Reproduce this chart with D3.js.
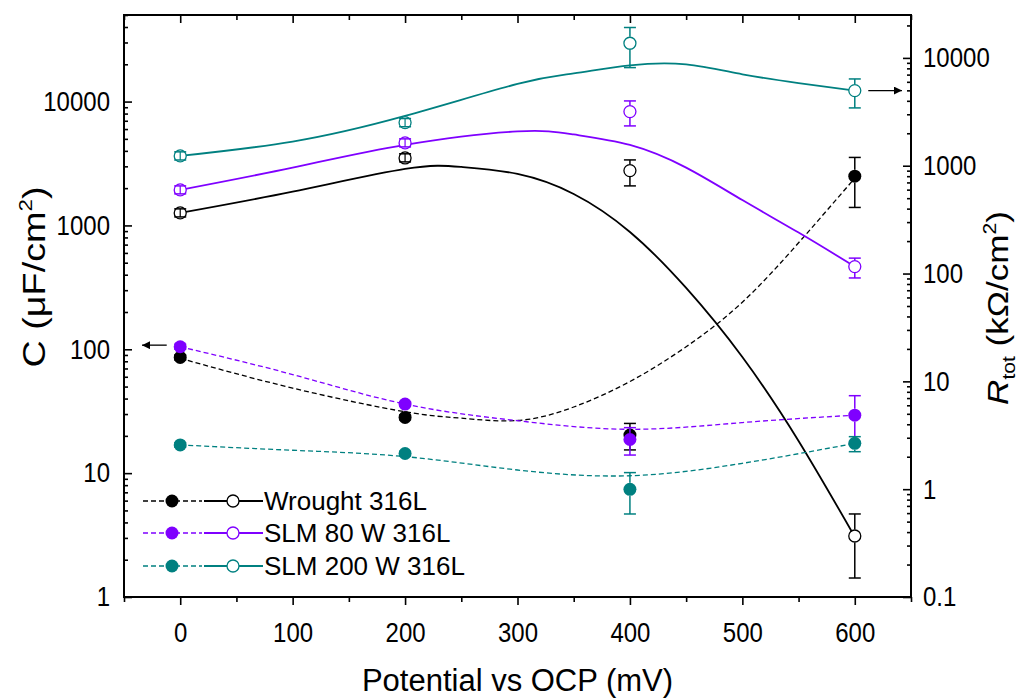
<!DOCTYPE html>
<html>
<head>
<meta charset="utf-8">
<script src="https://d3js.org/d3.v7.min.js"></script>
<style>
  html, body { margin: 0; padding: 0; background: #fff; }
  svg { display: block; font-family: "Liberation Sans", Arial, Helvetica, sans-serif; }
</style>
</head>
<body>
<svg id="chart" width="1022" height="698"></svg>
<script>
// ---------------- DATA ----------------
const potentials = [0, 200, 400, 600];
const seriesNames = ["Wrought 316L", "SLM 80 W 316L", "SLM 200 W 316L"];
const seriesColors = ["#000000", "#7F00FF", "#008080"];

// Capacitance C (µF/cm²) – filled markers, left axis
const cWrought   = [86, 28.2, 20.3, 2500];
const cWroughtLo = [82, 27.0, 15.4, 1397];
const cWroughtHi = [90, 29.5, 25.2, 3540];
const cSlm80     = [104.8, 36.1, 18.7, 29.4];
const cSlm80Lo   = [100, 34.5, 14.0, 17.4];
const cSlm80Hi   = [110, 37.8, 23.3, 42.2];
const cSlm200    = [16.9, 14.4, 7.4, 17.4];
const cSlm200Lo  = [16.2, 13.8, 4.68, 14.9];
const cSlm200Hi  = [17.6, 15.0, 10.1, 19.7];

// Total resistance Rtot (kΩ/cm²) – open markers, right axis
const rWrought   = [365, 1181, 901, 0.368];
const rWroughtLo = [335, 1085, 650, 0.150];
const rWroughtHi = [398, 1290, 1132, 0.589];
const rSlm80     = [597, 1629, 3177, 116];
const rSlm80Lo   = [548, 1495, 2340, 91];
const rSlm80Hi   = [650, 1775, 3990, 139];
const rSlm200    = [1233, 2512, 13680, 4975];
const rSlm200Lo  = [1130, 2300, 8130, 3437];
const rSlm200Hi  = [1345, 2740, 19140, 6380];

// Fitted curves (potential, value)
const fitCWroughtX = [0, 100, 200, 250, 300, 350, 400, 450, 500, 550, 600];
const fitCWroughtY = [84.5, 48.6, 31.3, 27.8, 26.6, 34.2, 54.9, 104.8, 240, 724, 2409];
const fitCSlm80X   = [0, 100, 200, 300, 400, 500, 600];
const fitCSlm80Y   = [104.8, 62.5, 36.1, 26.5, 22.6, 25.6, 29.4];
const fitCSlm200X  = [0, 100, 200, 300, 400, 500, 600];
const fitCSlm200Y  = [16.9, 15.3, 13.6, 10.6, 9.53, 12.0, 17.4];

const fitRWroughtX = [0, 100, 200, 250, 300, 350, 400, 450, 500, 550, 600];
const fitRWroughtY = [365, 575, 934, 975, 839, 547, 243, 73.5, 16.8, 2.80, 0.362];
const fitRSlm80X   = [0, 100, 200, 300, 350, 400, 450, 500, 550, 600];
const fitRSlm80Y   = [597, 960, 1560, 2080, 1950, 1560, 960, 480, 240, 116];
const fitRSlm200X  = [0, 100, 200, 300, 350, 400, 450, 500, 550, 600];
const fitRSlm200Y  = [1233, 1674, 2897, 5740, 7180, 8520, 8700, 7050, 5840, 4975];

const xMajorTicks = [0, 100, 200, 300, 400, 500, 600];
const xMinorTicks = [-50, 50, 150, 250, 350, 450, 550, 650];
const leftMajorTicks = [1, 10, 100, 1000, 10000];
const rightMajorTicks = [0.1, 1, 10, 100, 1000, 10000];

const xTitle = "Potential vs OCP (mV)";

// ---------------- LAYOUT ----------------
const svg = d3.select("#chart");
const L = 124, R = 911, T = 15, B = 597;

const x = d3.scaleLinear().domain([-50, 650]).range([L, R]);
const yC = d3.scaleLog().domain([1, 50000]).range([B, T]);
const yR = d3.scaleLog().domain([0.1, 25000]).range([B, T]);

function minorLog(domain) {
  const out = [];
  const lo = Math.floor(Math.log10(domain[0])), hi = Math.ceil(Math.log10(domain[1]));
  for (let e = lo; e <= hi; e++) {
    for (let m = 2; m <= 9; m++) {
      const v = m * Math.pow(10, e);
      if (v > domain[0] && v < domain[1] * 1.0001) out.push(v);
    }
  }
  return out;
}

const fontTick = 24;
const STRETCH = 1.15;

// Axes
svg.append("g").attr("transform", `translate(0,${B})`)
  .call(d3.axisBottom(x).tickValues(xMajorTicks).tickSize(8).tickPadding(17).tickFormat(d3.format("d")));
svg.append("g").attr("transform", `translate(0,${B})`)
  .call(d3.axisBottom(x).tickValues(xMinorTicks).tickSize(5).tickFormat(""));
svg.append("g").attr("transform", `translate(0,${T})`)
  .call(d3.axisTop(x).tickValues(xMajorTicks).tickSize(-8).tickFormat(""));
svg.append("g").attr("transform", `translate(0,${T})`)
  .call(d3.axisTop(x).tickValues(xMinorTicks).tickSize(-5).tickFormat(""));

svg.append("g").attr("transform", `translate(${L},0)`)
  .call(d3.axisLeft(yC).tickValues(leftMajorTicks).tickSize(-8).tickPadding(14).tickFormat(d3.format("d")));
svg.append("g").attr("transform", `translate(${L},0)`)
  .call(d3.axisLeft(yC).tickValues(minorLog(yC.domain())).tickSize(-4).tickFormat(""));

svg.append("g").attr("transform", `translate(${R},0)`)
  .call(d3.axisRight(yR).tickValues(rightMajorTicks).tickSize(-8).tickPadding(12)
    .tickFormat(d => d < 1 ? "0.1" : d3.format("d")(d)));
svg.append("g").attr("transform", `translate(${R},0)`)
  .call(d3.axisRight(yR).tickValues(minorLog(yR.domain())).tickSize(-4).tickFormat(""));

svg.selectAll(".domain").remove();
svg.selectAll(".tick line").attr("stroke", "#000").attr("stroke-width", 1.6);
svg.selectAll(".tick text").attr("font-size", fontTick).attr("fill", "#000")
  .attr("font-family", "'Liberation Sans', Arial, sans-serif")
  .each(function () {
    const t = d3.select(this);
    const tx = +t.attr("x") || 0, ty = +t.attr("y") || 0;
    t.attr("x", 0).attr("y", 0).attr("transform", `translate(${tx},${ty}) scale(1,${STRETCH})`);
  });

// Frame
svg.append("rect").attr("x", L).attr("y", T).attr("width", R - L).attr("height", B - T)
  .attr("fill", "none").attr("stroke", "#000").attr("stroke-width", 2);

// Titles
svg.append("text").attr("x", (L + R) / 2).attr("y", 691).attr("text-anchor", "middle")
  .attr("font-size", 31).text(xTitle);

const lt = svg.append("text").attr("transform", `translate(45,277) rotate(-90) scale(1.18,1)`)
  .attr("text-anchor", "middle").attr("font-size", 32);
lt.append("tspan").text("C (\u03BCF/cm");
lt.append("tspan").attr("font-size", 19).attr("dy", -13).text("2");
lt.append("tspan").attr("dy", 13).text(")");

const rt = svg.append("text").attr("transform", `translate(1008,308) rotate(-90) scale(1.17,1)`)
  .attr("text-anchor", "middle").attr("font-size", 30);
rt.append("tspan").attr("font-style", "italic").text("R");
rt.append("tspan").attr("font-size", 18).attr("dy", 7).text("tot");
rt.append("tspan").attr("dy", -7).text(" (k\u03A9/cm");
rt.append("tspan").attr("font-size", 18).attr("dy", -12).text("2");
rt.append("tspan").attr("dy", 12).text(")");

// Series
const series = [
  { c: cWrought, cLo: cWroughtLo, cHi: cWroughtHi, r: rWrought, rLo: rWroughtLo, rHi: rWroughtHi,
    fcx: fitCWroughtX, fcy: fitCWroughtY, frx: fitRWroughtX, fry: fitRWroughtY },
  { c: cSlm80, cLo: cSlm80Lo, cHi: cSlm80Hi, r: rSlm80, rLo: rSlm80Lo, rHi: rSlm80Hi,
    fcx: fitCSlm80X, fcy: fitCSlm80Y, frx: fitRSlm80X, fry: fitRSlm80Y },
  { c: cSlm200, cLo: cSlm200Lo, cHi: cSlm200Hi, r: rSlm200, rLo: rSlm200Lo, rHi: rSlm200Hi,
    fcx: fitCSlm200X, fcy: fitCSlm200Y, frx: fitRSlm200X, fry: fitRSlm200Y }
];

const MR = 6.5, CAP = 6;
const line = d3.line().curve(d3.curveNatural);
const gCurves = svg.append("g");
const gMarks = svg.append("g");

series.forEach((s, i) => {
  const col = seriesColors[i];
  gCurves.append("path")
    .attr("d", line(s.fcx.map((p, k) => [x(p), yC(s.fcy[k])])))
    .attr("fill", "none").attr("stroke", col).attr("stroke-width", 1.3).attr("stroke-dasharray", "5,3");
  gCurves.append("path")
    .attr("d", line(s.frx.map((p, k) => [x(p), yR(s.fry[k])])))
    .attr("fill", "none").attr("stroke", col).attr("stroke-width", 1.8);
});

function errBar(g, cx, y0, yl, yh, col) {
  if (yl - y0 > MR || y0 - yh > MR) {
    if (y0 - yh > MR) g.append("line").attr("x1", cx).attr("x2", cx).attr("y1", yh).attr("y2", y0 - MR)
      .attr("stroke", col).attr("stroke-width", 1.5);
    if (yl - y0 > MR) g.append("line").attr("x1", cx).attr("x2", cx).attr("y1", y0 + MR).attr("y2", yl)
      .attr("stroke", col).attr("stroke-width", 1.5);
  } else {
    g.append("line").attr("x1", cx).attr("x2", cx).attr("y1", yh).attr("y2", yl)
      .attr("stroke", col).attr("stroke-width", 1.2);
  }
  [yl, yh].forEach(yy => g.append("line").attr("x1", cx - CAP).attr("x2", cx + CAP)
    .attr("y1", yy).attr("y2", yy).attr("stroke", col).attr("stroke-width", 1.5));
}

series.forEach((s, i) => {
  const col = seriesColors[i];
  potentials.forEach((p, k) => {
    gMarks.append("circle").attr("cx", x(p)).attr("cy", yC(s.c[k])).attr("r", MR).attr("fill", col);
    errBar(gMarks, x(p), yC(s.c[k]), yC(s.cLo[k]), yC(s.cHi[k]), col);
  });
  potentials.forEach((p, k) => {
    gMarks.append("circle").attr("cx", x(p)).attr("cy", yR(s.r[k])).attr("r", MR - 0.5)
      .attr("fill", "#fff").attr("stroke", col).attr("stroke-width", 1.3);
    errBar(gMarks, x(p), yR(s.r[k]), yR(s.rLo[k]), yR(s.rHi[k]), col);
  });
});

// Arrows
svg.append("defs").append("marker").attr("id", "ah").attr("viewBox", "0 0 10 10")
  .attr("refX", 10).attr("refY", 5).attr("markerWidth", 15).attr("markerHeight", 8)
  .attr("markerUnits", "userSpaceOnUse").attr("orient", "auto")
  .append("path").attr("d", "M0,0 L10,5 L0,10 Z").attr("fill", "#000");
svg.append("line").attr("x1", x(-12)).attr("x2", x(-34)).attr("y1", yC(108)).attr("y2", yC(108))
  .attr("stroke", "#000").attr("stroke-width", 1.3).attr("marker-end", "url(#ah)");
svg.append("line").attr("x1", x(612)).attr("x2", x(642)).attr("y1", yR(4975)).attr("y2", yR(4975))
  .attr("stroke", "#000").attr("stroke-width", 1.3).attr("marker-end", "url(#ah)");

// Legend
const legRows = [501, 533, 566];
seriesNames.forEach((name, i) => {
  const col = seriesColors[i], yy = legRows[i];
  const g = svg.append("g");
  g.append("line").attr("x1", 143).attr("x2", 202).attr("y1", yy).attr("y2", yy)
    .attr("stroke", col).attr("stroke-width", 1.3).attr("stroke-dasharray", "5,3");
  g.append("circle").attr("cx", 172).attr("cy", yy).attr("r", MR).attr("fill", col);
  g.append("line").attr("x1", 204).attr("x2", 263).attr("y1", yy).attr("y2", yy)
    .attr("stroke", col).attr("stroke-width", 1.8);
  g.append("circle").attr("cx", 233).attr("cy", yy).attr("r", MR - 0.5)
    .attr("fill", "#fff").attr("stroke", col).attr("stroke-width", 1.3);
  g.append("text").attr("x", 264).attr("y", yy).attr("dy", "0.36em")
    .attr("font-size", 26).attr("fill", "#000").text(name);
});
</script>
</body>
</html>
